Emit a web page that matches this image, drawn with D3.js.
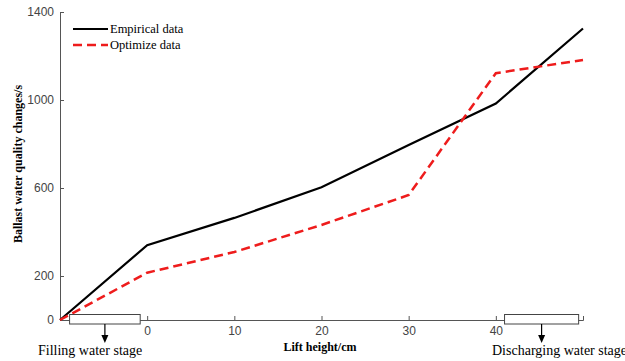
<!DOCTYPE html>
<html>
<head>
<meta charset="utf-8">
<script src="https://cdn.jsdelivr.net/npm/d3@7"></script>
<style>
  body { margin: 0; background: #fff; }
  svg { display: block; }
  .serif { font-family: "Liberation Serif", "Times New Roman", Times, serif; }
</style>
</head>
<body>
<svg width="625" height="361"></svg>
<script>
// lift height (cm), -10 = start of filling stage
var liftHeight = [-10, 0, 10, 20, 30, 40, 50];
var empirical = [0, 340, 464, 603, 795, 984, 1325];
var optimized = [0, 215, 309, 432, 568, 1122, 1182];
var xTicks = [0, 10, 20, 30, 40];
var yTicks = [0, 200, 600, 1000, 1400];

var svg = d3.select("svg");

var x = d3.scaleLinear().domain([-10, 50]).range([60, 583]);
var y = d3.scaleLinear().domain([0, 1400]).range([320, 12]);

// axes (ticks point inward like matlab)
var xAxis = svg.append("g")
  .attr("transform", "translate(0," + y(0) + ")")
  .call(d3.axisBottom(x).tickValues(xTicks).tickFormat(d3.format("d"))
    .tickSizeInner(-4).tickSizeOuter(-4).tickPadding(6));
var yAxis = svg.append("g")
  .attr("transform", "translate(" + x(-10) + ",0)")
  .call(d3.axisLeft(y).tickValues(yTicks).tickFormat(d3.format("d"))
    .tickSizeInner(-4).tickSizeOuter(0).tickPadding(6));

[xAxis, yAxis].forEach(function(a) {
  a.select(".domain").attr("stroke", "#555");
  a.selectAll(".tick line").attr("stroke", "#555");
  a.selectAll(".tick text")
    .attr("fill", "#444")
    .attr("font-family", "Liberation Sans, Arial, sans-serif")
    .attr("font-size", 12);
});

var line = d3.line()
  .x(function(d) { return x(d[0]); })
  .y(function(d) { return y(d[1]); });

svg.append("path")
  .datum(d3.zip(liftHeight, empirical))
  .attr("fill", "none")
  .attr("stroke", "#000")
  .attr("stroke-width", 2.2)
  .attr("d", line);

svg.append("path")
  .datum(d3.zip(liftHeight, optimized))
  .attr("fill", "none")
  .attr("stroke", "#ee1c1c")
  .attr("stroke-width", 2.5)
  .attr("stroke-dasharray", "9,5")
  .attr("d", line);

// legend
var legend = svg.append("g");
legend.append("line").attr("x1", 73).attr("x2", 108).attr("y1", 29).attr("y2", 29)
  .attr("stroke", "#000").attr("stroke-width", 2.2);
legend.append("line").attr("x1", 73).attr("x2", 108).attr("y1", 45).attr("y2", 45)
  .attr("stroke", "#ee1c1c").attr("stroke-width", 2.5).attr("stroke-dasharray", "9,5");
legend.append("text").attr("class", "serif").attr("x", 110).attr("y", 33).text("Empirical data")
  .attr("font-size", 12.5);
legend.append("text").attr("class", "serif").attr("x", 110).attr("y", 49).text("Optimize data")
  .attr("font-size", 12.5);

// axis titles
svg.append("text")
  .attr("class", "serif")
  .attr("transform", "translate(22,164) rotate(-90)")
  .attr("text-anchor", "middle")
  .attr("font-size", 12).attr("font-weight", "bold")
  .text("Ballast water quality changes/s");
svg.append("text")
  .attr("class", "serif")
  .attr("x", 320).attr("y", 351)
  .attr("text-anchor", "middle")
  .attr("font-size", 12).attr("font-weight", "bold")
  .text("Lift height/cm");

// stage boxes + arrows
var stages = [
  {name: "Filling water stage", x0: -8.9, x1: -0.8, tx: 38},
  {name: "Discharging water stage", x0: 41.0, x1: 49.5, tx: 492}
];
stages.forEach(function(s) {
  var g = svg.append("g");
  g.append("rect")
    .attr("x", x(s.x0)).attr("y", 314.5)
    .attr("width", x(s.x1) - x(s.x0)).attr("height", 9.5)
    .attr("fill", "#fff").attr("stroke", "#444").attr("stroke-width", 1);
  var cx = (x(s.x0) + x(s.x1)) / 2;
  g.append("line").attr("x1", cx).attr("x2", cx).attr("y1", 324).attr("y2", 337)
    .attr("stroke", "#000").attr("stroke-width", 1.2);
  g.append("path")
    .attr("d", "M" + (cx - 3.5) + ",335 L" + (cx + 3.5) + ",335 L" + cx + ",343 Z")
    .attr("fill", "#000");
  g.append("text").attr("class", "serif").attr("x", s.tx).attr("y", 355)
    .attr("font-size", 14)
    .text(s.name);
});
</script>
</body>
</html>
